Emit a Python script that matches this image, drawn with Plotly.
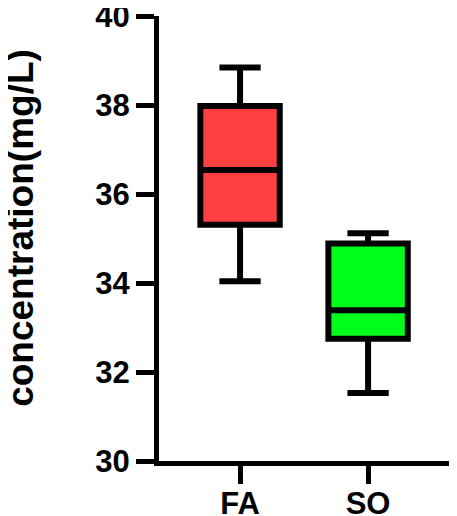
import plotly.graph_objects as go

groups = ['FA', 'SO']
lower_whisker = [34.04, 31.53]
q1 = [35.31, 32.75]
median = [36.54, 33.39]
q3 = [37.98, 34.89]
upper_whisker = [38.84, 35.12]
fill_colors = ['#FF4040', '#00FF1A']

fig = go.Figure()

for i, g in enumerate(groups):
    fig.add_trace(go.Box(
        x=[g],
        q1=[q1[i]],
        median=[median[i]],
        q3=[q3[i]],
        lowerfence=[lower_whisker[i]],
        upperfence=[upper_whisker[i]],
        fillcolor=fill_colors[i],
        line=dict(color='black', width=6),
        width=0.62,
        whiskerwidth=0.52,
        boxpoints=False,
        showlegend=False,
    ))

tick_font = dict(family='Liberation Sans', size=31, color='black', weight='bold')

# y title placed as a rotated annotation so it sits where the original does
fig.add_annotation(
    text='concentration(mg/L)',
    xref='paper', yref='paper',
    x=-0.451, y=0.524,
    xanchor='center', yanchor='middle',
    textangle=-90,
    showarrow=False,
    font=dict(family='Liberation Sans', size=37, color='black', weight='bold'),
)

fig.update_layout(
    width=457,
    height=516,
    margin=dict(l=151, r=0, t=8, b=63),
    plot_bgcolor='white',
    paper_bgcolor='white',
    xaxis=dict(
        type='category',
        categoryorder='array',
        categoryarray=groups,
        range=[-0.633, 1.757],
        showline=True,
        linecolor='black',
        linewidth=5,
        ticks='outside',
        ticklen=18,
        tickwidth=5,
        tickcolor='black',
        tickfont=tick_font,
        ticklabelstandoff=-7,
        ticklabeloverflow='allow',
        automargin=False,
        showgrid=False,
        zeroline=False,
    ),
    yaxis=dict(
        range=[30, 40],
        tickvals=[30, 32, 34, 36, 38, 40],
        showline=True,
        linecolor='black',
        linewidth=5,
        ticks='outside',
        ticklen=18,
        tickwidth=5,
        tickcolor='black',
        tickfont=tick_font,
        ticklabeloverflow='allow',
        automargin=False,
        showgrid=False,
        zeroline=False,
    ),
)

fig.write_html('out.html')
